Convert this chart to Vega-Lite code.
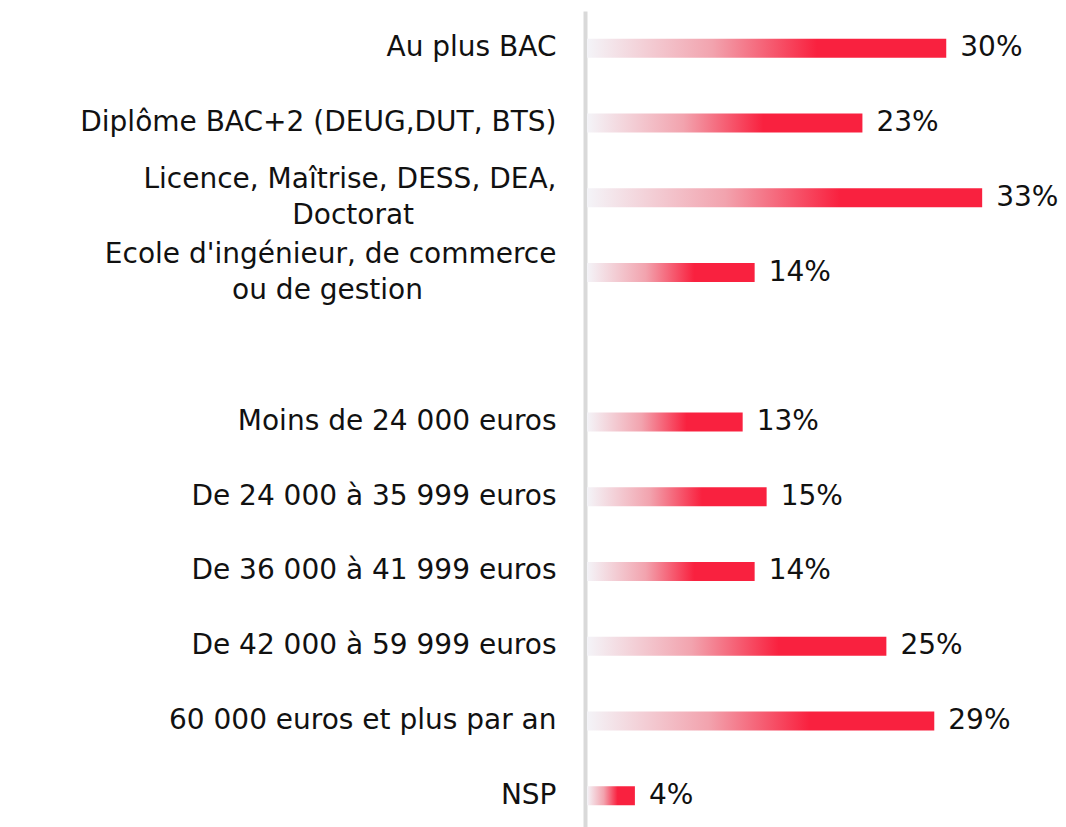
{
  "$schema": "https://vega.github.io/schema/vega-lite/v6.json",
  "autosize": {"type": "none"},
  "width": 479,
  "height": 816,
  "padding": {"left": 587, "top": 11, "right": 0, "bottom": 0},
  "background": "white",
  "config": {"view": {"stroke": null}, "font": "DejaVu Sans"},
  "data": {"values": [
    {"cat": "Au plus BAC", "value": 0.30},
    {"cat": "Diplôme BAC+2 (DEUG,DUT, BTS)", "value": 0.23},
    {"cat": "Licence, Maîtrise, DESS, DEA,|Doctorat", "value": 0.33},
    {"cat": "Ecole d'ingénieur, de commerce|ou de gestion", "value": 0.14},
    {"cat": "Moins de 24 000 euros", "value": 0.13},
    {"cat": "De 24 000 à 35 999 euros", "value": 0.15},
    {"cat": "De 36 000 à 41 999 euros", "value": 0.14},
    {"cat": "De 42 000 à 59 999 euros", "value": 0.25},
    {"cat": "60 000 euros et plus par an", "value": 0.29},
    {"cat": "NSP", "value": 0.04}
  ]},
  "encoding": {
    "y": {
      "field": "cat", "type": "nominal",
      "scale": {
        "domain": ["Au plus BAC", "Diplôme BAC+2 (DEUG,DUT, BTS)", "Licence, Maîtrise, DESS, DEA,|Doctorat", "Ecole d'ingénieur, de commerce|ou de gestion", " ", "Moins de 24 000 euros", "De 24 000 à 35 999 euros", "De 36 000 à 41 999 euros", "De 42 000 à 59 999 euros", "60 000 euros et plus par an", "NSP"],
        "range": [0, 822],
        "paddingInner": 0, "paddingOuter": 0
      },
      "axis": {
        "title": null, "ticks": false, "tickSize": 0, "offset": 2,
        "labelPadding": 29, "labelFontSize": 28, "labelColor": "#111111",
        "labelLimit": 700, "labelLineHeight": 36,
        "labelOffset": {"condition": {"test": "indexof(datum.label, '|') >= 0", "value": -18}, "value": 0},
        "domainColor": "#d9d9d9", "domainWidth": 4, "grid": false,
        "labelExpr": "datum.label == 'Licence, Maîtrise, DESS, DEA,|Doctorat' ? ['Licence, Maîtrise, DESS, DEA,', 'Doctorat\u00a0\u00a0\u00a0\u00a0\u00a0\u00a0\u00a0\u00a0\u00a0\u00a0\u00a0\u00a0\u00a0\u00a0\u00a0\u00a0\u200b'] : datum.label == 'Ecole d\\'ingénieur, de commerce|ou de gestion' ? ['Ecole d\\'ingénieur, de commerce', 'ou de gestion\u00a0\u00a0\u00a0\u00a0\u00a0\u00a0\u00a0\u00a0\u00a0\u00a0\u00a0\u00a0\u00a0\u00a0\u00a0\u200b'] : datum.label"
      }
    },
    "x": {"field": "value", "type": "quantitative", "scale": {"domain": [0, 0.4]}, "axis": null}
  },
  "layer": [
    {
      "mark": {
        "type": "bar", "size": 19,
        "fill": {"gradient": "linear", "x1": 0, "y1": 0.5, "x2": 1, "y2": 0.5,
          "stops": [
            {"offset": 0, "color": "#f4f4f8"},
            {"offset": 0.35, "color": "#f2a3ae"},
            {"offset": 0.64, "color": "#f9213f"},
            {"offset": 1, "color": "#f9213f"}
          ]}
      }
    },
    {
      "mark": {"type": "text", "align": "left", "baseline": "middle", "dx": 14, "fontSize": 28, "color": "#111111"},
      "encoding": {"text": {"field": "value", "type": "quantitative", "format": ".0%"}, "detail": {"value": 0}}
    }
  ]
}
